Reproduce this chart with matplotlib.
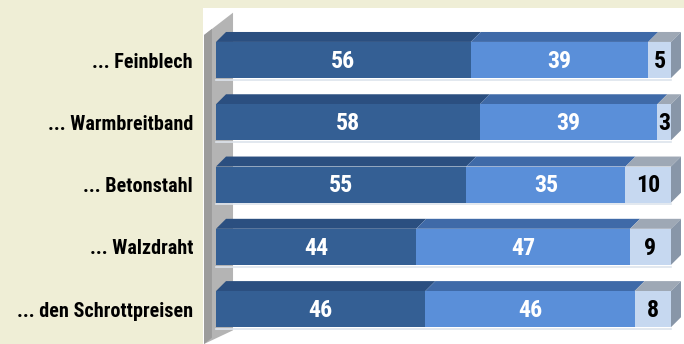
import os
import matplotlib
matplotlib.use("Agg")
import matplotlib.pyplot as plt
from matplotlib.patches import Polygon
from matplotlib import font_manager as fm

categories = ["... Feinblech", "... Warmbreitband", "... Betonstahl", "... Walzdraht", "... den Schrottpreisen"]
seg1 = [56, 58, 55, 44, 46]
seg2 = [39, 39, 35, 47, 46]
seg3 = [5, 3, 10, 9, 8]

# pick a narrow / condensed bold font if available
def pick_font():
    prefs = ["liberationsansnarrow-bold.", "arialnarrow", "notosans-condensedbold.",
             "roboto-condensedbold", "robotocondensed-bold", "opensans-condensedbold",
             "opensanscondensed-bold", "dejavusanscondensed-bold."]
    files = [f.fname for f in fm.fontManager.ttflist]
    for p in prefs:
        for fn in files:
            if p in os.path.basename(fn).lower():
                return fm.FontProperties(fname=fn)
    return fm.FontProperties(family=["Liberation Sans", "DejaVu Sans"], weight="bold")

FP = pick_font()
BEIGE = "#efeed6"
front_cols = ["#345f94", "#5a8fd9", "#c6d8f0"]
top_cols = ["#2b4f80", "#3f6aa8", "#9ea8b5"]
side_col = "#8896a8"
text_cols = ["white", "white", "black"]

fig = plt.figure(figsize=(6.84, 3.44), dpi=100, facecolor=BEIGE)
ax = fig.add_axes([203 / 684, 0, (684 - 203) / 684, 336 / 344])
ax.set_facecolor("white")
ax.set_xlim(-2.86, 102.86)
ax.set_ylim(4.56, -0.835)
for s in ax.spines.values():
    s.set_visible(False)
ax.set_xticks([])

renderer = fig.canvas.get_renderer()

def fit_size(text, target_px, base=12):
    t = fig.text(0, 0, text, fontproperties=FP, fontsize=base)
    w = t.get_window_extent(renderer).width
    t.remove()
    return base * target_px / w

cat_size = min(fit_size(max(categories, key=len), 180), 14.5)
val_size = min(fit_size("56", 24), 19)

# side wall
ax.add_patch(Polygon([(-2.64, -0.40), (3.74, -0.76), (3.74, 4.34), (-2.64, 4.56)],
                     closed=True, facecolor="#b4b4b4", edgecolor="none", zorder=1))
ax.add_patch(Polygon([(-2.64, -0.40), (-0.9, -0.50), (-0.9, 4.46), (-2.64, 4.56)],
                     closed=True, facecolor="#9c9c9c", edgecolor="none", zorder=1))

h = 0.58
dx = 2.2
dy = 0.16
series = [seg1, seg2, seg3]
for i in range(len(categories)):
    left = 0
    for k, vals in enumerate(series):
        v = vals[i]
        ax.barh(i, v, left=left, height=h, color=front_cols[k], edgecolor="none", zorder=3)
        top = i - h / 2
        ax.add_patch(Polygon([(left, top), (left + v, top), (left + v + dx, top - dy), (left + dx, top - dy)],
                             closed=True, facecolor=top_cols[k], edgecolor="none", zorder=2))
        ax.text(left + v / 2, i + 0.02, str(v), ha="center", va="center", fontsize=val_size,
                fontproperties=FP, color=text_cols[k], zorder=5)
        left += v
    top = i - h / 2
    ax.add_patch(Polygon([(left, top), (left + dx, top - dy), (left + dx, top + h - dy), (left, top + h)],
                         closed=True, facecolor=side_col, edgecolor="none", zorder=2))
    ax.plot([0, left], [i + h / 2 + 0.03, i + h / 2 + 0.03], color="#dde4ec", lw=1.2, zorder=2)

ax.set_yticks(range(len(categories)))
ax.set_yticklabels(categories)
ax.tick_params(axis="y", length=0, pad=7.2)
for lab in ax.get_yticklabels():
    lab.set_fontproperties(FP)
    lab.set_fontsize(cat_size)
    lab.set_color("black")

fig.savefig("out.png", dpi=100, facecolor=BEIGE)
